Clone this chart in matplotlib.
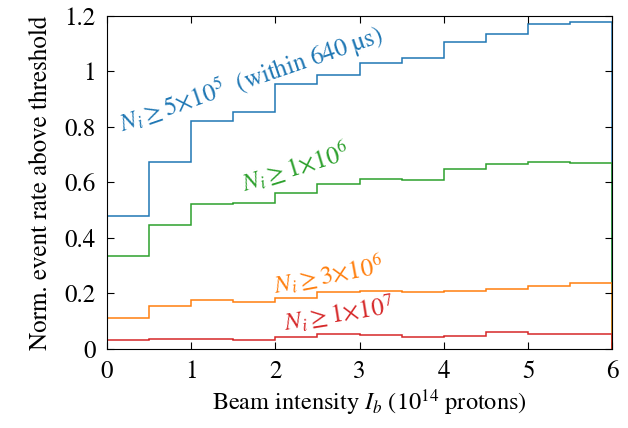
import numpy as np
import matplotlib
matplotlib.use('Agg')
import matplotlib.pyplot as plt

plt.rcParams.update({
    'font.family': 'STIXGeneral',
    'mathtext.fontset': 'stix',
    'font.size': 18,
    'xtick.direction': 'in',
    'ytick.direction': 'in',
    'xtick.top': True,
    'ytick.right': True,
})

# bin edges of the beam intensity (10^14 protons)
edges = np.arange(0, 6.01, 0.5)

# normalised event rate above threshold, one value per bin
rate_5e5 = [0.480, 0.674, 0.822, 0.855, 0.953, 0.988, 1.030, 1.047, 1.104, 1.135, 1.169, 1.177]
rate_1e6 = [0.335, 0.447, 0.522, 0.524, 0.563, 0.594, 0.612, 0.609, 0.647, 0.665, 0.675, 0.669]
rate_3e6 = [0.111, 0.154, 0.175, 0.169, 0.183, 0.203, 0.210, 0.205, 0.209, 0.214, 0.226, 0.236]
rate_1e7 = [0.030, 0.034, 0.036, 0.030, 0.042, 0.053, 0.051, 0.041, 0.047, 0.059, 0.055, 0.055]

fig = plt.figure(figsize=(6.28, 4.28), dpi=100)
ax = fig.add_axes([0.170, 0.185, 0.805, 0.778])

lw = 1.1
ax.stairs(rate_5e5, edges, color='#1f77b4', lw=lw)
ax.stairs(rate_1e6, edges, color='#2ca02c', lw=lw)
ax.stairs(rate_3e6, edges, color='#ff7f0e', lw=lw)
ax.stairs(rate_1e7, edges, color='#d62728', lw=lw)

# curve labels
ax.text(0.18, 0.78, r'$N_i \geq 5{\times}10^5$  (within 640 µs)', color='#1f77b4',
        rotation=19, rotation_mode='anchor', fontsize=18)
ax.text(1.64, 0.565, r'$N_i \geq 1{\times}10^6$', color='#2ca02c',
        rotation=17, rotation_mode='anchor', fontsize=18)
ax.text(2.0, 0.2, r'$N_i \geq 3{\times}10^6$', color='#ff7f0e',
        rotation=10.5, rotation_mode='anchor', fontsize=18)
ax.text(2.12, 0.062, r'$N_i \geq 1{\times}10^7$', color='#d62728',
        rotation=9, rotation_mode='anchor', fontsize=18)

ax.set_xlim(0, 6)
ax.set_ylim(0, 1.2)
ax.set_xticks(range(0, 7))
ax.set_yticks([0, 0.2, 0.4, 0.6, 0.8, 1.0, 1.2])
ax.set_yticklabels(['0', '0.2', '0.4', '0.6', '0.8', '1', '1.2'])
ax.tick_params(length=5, width=0.8, pad=8)
ax.set_xlabel(r'Beam intensity $I_b$ ($10^{14}$ protons)', fontsize=17.5)
ax.xaxis.set_label_coords(0.52, -0.115)
ax.set_ylabel('Norm. event rate above threshold', labelpad=8)

fig.savefig('out.png', dpi=100)
